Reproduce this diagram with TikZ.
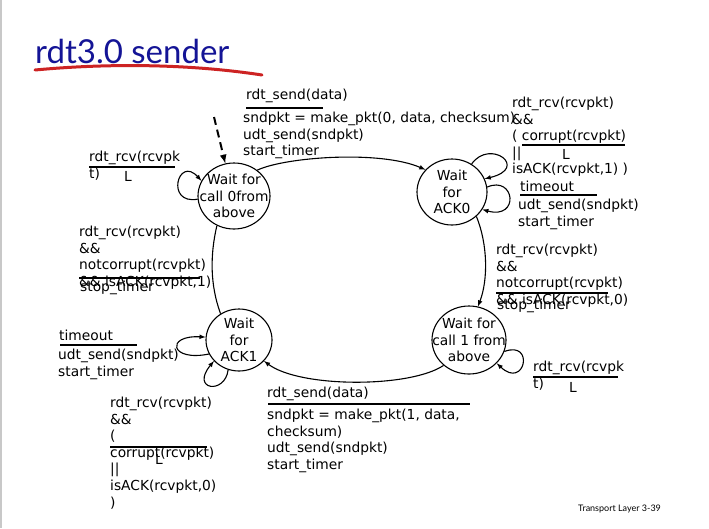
\documentclass[tikz,border=0pt]{standalone}
\usepackage{fontspec}
\setmainfont{DejaVu Sans}
\newfontfamily\titlefont{Lato}
\usepackage{xcolor}
\usetikzlibrary{shapes.geometric}
\definecolor{titleblue}{RGB}{20,20,150}
\definecolor{penred}{RGB}{205,35,35}
\definecolor{framegray}{RGB}{200,200,200}
\tikzset{
    state/.style={ellipse, draw, line width=1.1pt, inner sep=0pt},
    statetext/.style={align=center, inner sep=0pt, font=\fontsize{13.8}{16.6}\selectfont},
    % base of a block = baseline of its last line
    lbl/.style={anchor=base west, align=left, inner sep=0pt,
        font=\fontsize{13.8}{16.6}\selectfont},
    bar/.style={line width=1.7pt},
    edge/.style={line width=1.1pt, -latex}
}
\begin{document}
\begin{tikzpicture}[x=1pt, y=-1pt]
    \fill[white] (0,0) rectangle (709,528);
    \useasboundingbox (0,0) rectangle (709,528);
    \draw[framegray, line width=1.5pt] (1,0) -- (1,528);

    % title
    \node[anchor=base west, inner sep=0pt, text=titleblue,
        font=\titlefont\fontsize{33}{40}\selectfont] (title) at (35,63) {rdt3.0 sender};
    \draw[penred, line width=3pt, line cap=round] (35,70) .. controls (110,63) and (190,64) .. (262,75);
    \node[anchor=base west, inner sep=0pt,
        font=\titlefont\fontsize{9}{10}\selectfont] (footer) at (578,511) {Transport Layer 3-39};

    % states
    \node[state, minimum width=72pt, minimum height=66pt] (call0) at (234,196) {};
    \node[statetext] (call0text) at (call0) {Wait for\\call 0from\\above};
    \node[state, minimum width=70pt, minimum height=66pt] (ack0) at (452,192) {};
    \node[statetext] (ack0text) at (ack0) {Wait\\for\\ACK0};
    \node[state, minimum width=74pt, minimum height=68pt] (call1) at (469,340) {};
    \node[statetext] (call1text) at (call1) {Wait for\\call 1 from\\above};
    \node[state, minimum width=66pt, minimum height=62pt] (ack1) at (239,340) {};
    \node[statetext] (ack1text) at (ack1) {Wait\\for\\ACK1};

    % labels
    \node[lbl] (sendzero) at (246,99.5) {rdt\_send(data)};
    \draw[bar] (246,108) -- (323,108);
    \node[lbl] (actzero) at (243,155.7) {sndpkt = make\_pkt(0, data, checksum)\\udt\_send(sndpkt)\\start\_timer};

    \node[lbl] (corruptzero) at (512,173.9) {rdt\_rcv(rcvpkt)\\\&\&\\( corrupt(rcvpkt)\\||\\isACK(rcvpkt,1) )};
    \draw[bar] (522,145) -- (625,145);
    \node[lbl] (lamzero) at (562,159) {L};

    \node[lbl] (tozero) at (520,191) {timeout};
    \draw[bar] (520,195) -- (597,195);
    \node[lbl] (resendzero) at (518,226.1) {udt\_send(sndpkt)\\start\_timer};

    \node[lbl] (ackzero) at (496,304.3) {rdt\_rcv(rcvpkt)\\\&\&\\notcorrupt(rcvpkt)\\\&\& isACK(rcvpkt,0)};
    \draw[bar] (496,293) -- (608,293);
    \node[lbl] (stopzero) at (497,309.5) {stop\_timer};

    \node[lbl] (idleone) at (533,388.1) {rdt\_rcv(rcvpk\\t)};
    \draw[bar] (533,377) -- (618,377);
    \node[lbl] (lamone) at (569,392) {L};

    \node[lbl] (sendone) at (267,397.5) {rdt\_send(data)};
    \draw[bar] (268,404) -- (470,404);
    \node[lbl] (actone) at (267,469.3) {sndpkt = make\_pkt(1, data,\\checksum)\\udt\_send(sndpkt)\\start\_timer};

    \node[lbl] (toone) at (59,340) {timeout};
    \draw[bar] (60,345) -- (137,345);
    \node[lbl] (resendone) at (58,376.1) {udt\_send(sndpkt)\\start\_timer};

    \node[lbl] (corruptone) at (110,507.1) {rdt\_rcv(rcvpkt)\\\&\&\\(\\corrupt(rcvpkt)\\||\\isACK(rcvpkt,0)\\)};
    \draw[bar] (110,447) -- (207,447);
    \node[lbl] (lamcorrupt) at (155,464) {L};

    \node[lbl] (ackone) at (79,286.3) {rdt\_rcv(rcvpkt)\\\&\&\\notcorrupt(rcvpkt)\\\&\& isACK(rcvpkt,1)};
    \draw[bar] (79,278) -- (200,278);
    \node[lbl] (stopone) at (80,291.5) {stop\_timer};

    \node[lbl] (idlezero) at (89,178.1) {rdt\_rcv(rcvpk\\t)};
    \draw[bar] (89,167) -- (175,167);
    \node[lbl] (lamidle) at (124,181) {L};

    % arrows
    \coordinate (init) at (214,117);
    \draw[line width=2pt, dash pattern=on 8pt off 5pt, -latex] (init) -- (call0.105);
    \draw[edge] (call0.48) .. controls (285,157) and (380,150) .. (ack0.140);
    \draw[edge] (ack0.55) .. controls (490,138) and (530,168) .. (ack0.22);
    \draw[edge] (ack0.8) .. controls (515,175) and (520,220) .. (ack0.-30);
    \draw[edge] (ack0.-45) .. controls (488,245) and (488,280) .. (call1.75);
    \draw[edge] (call1.-18) .. controls (535,340) and (525,390) .. (call1.-40);
    \draw[edge] (call1.-135) .. controls (410,388) and (300,388) .. (ack1.-40);
    \draw[edge] (ack1.-155) .. controls (170,362) and (165,335) .. (ack1.175);
    \draw[edge] (ack1.-110) .. controls (225,395) and (190,390) .. (ack1.-140);
    \draw[line width=1.1pt] (ack1.125) .. controls (210,285) and (210,255) .. (call0.-120);
    \draw[edge] (call0.185) .. controls (165,205) and (178,155) .. (call0.155);
\end{tikzpicture}
\end{document}
